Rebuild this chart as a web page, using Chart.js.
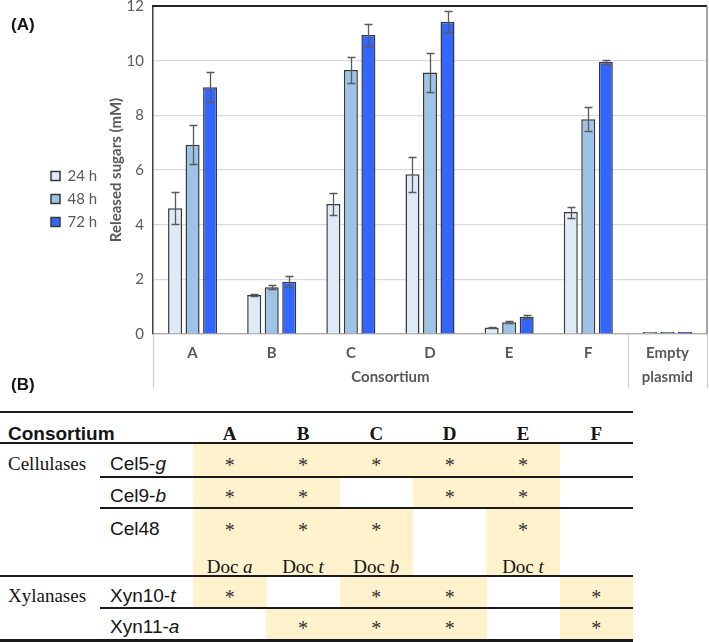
<!DOCTYPE html>
<html><head><meta charset="utf-8">
<script src="https://cdn.jsdelivr.net/npm/chart.js@4.4.1/dist/chart.umd.min.js"></script>
<style>
html,body{margin:0;padding:0;background:#fff;}
#wrap{position:relative;width:709px;height:642px;overflow:hidden;}
#c{position:absolute;left:0;top:0;}
.t{position:absolute;white-space:nowrap;line-height:20px;height:20px;color:#151515;}
.sans{font-family:"Liberation Sans",Arial,sans-serif;font-size:19px;}
.serif{font-family:"Liberation Serif","Times New Roman",serif;font-size:19px;}
.b{font-weight:bold;}
.ln{position:absolute;background:#1a1a1a;}
.sh{position:absolute;background:#FFF2CC;}
</style></head>
<body><div id="wrap"><canvas id="c" width="709" height="392"></canvas><div id="tbl"></div></div>
<script>
// ---- Panel (A) data ----
const categories = ['A','B','C','D','E','F',['Empty','plasmid']];
const seriesLabels = ['24 h','48 h','72 h'];
const sugars24 = [4.60, 1.43, 4.76, 5.84, 0.24, 4.46, 0.07];
const sugars48 = [6.92, 1.71, 9.66, 9.57, 0.43, 7.86, 0.07];
const sugars72 = [9.03, 1.91, 10.94, 11.42, 0.63, 9.95, 0.07];
const err24 = [0.58, 0.03, 0.41, 0.65, 0.02, 0.20, 0];
const err48 = [0.71, 0.07, 0.49, 0.72, 0.03, 0.43, 0];
const err72 = [0.56, 0.20, 0.40, 0.38, 0.05, 0.08, 0];
const yTicks = [0, 2, 4, 6, 8, 10, 12];
const xGroupTitle = 'Consortium';
const yTitle = 'Released sugars (mM)';

// ---- Panel (B) data ----
const tableCols = ['A','B','C','D','E','F'];
const geneRows = ['Cel5-<i>g</i>','Cel9-<i>b</i>','Cel48','Xyn10-<i>t</i>','Xyn11-<i>a</i>'];
const geneClasses = ['Cellulases','','','Xylanases',''];
const geneInConsortium = [
  [1,1,1,1,1,0],
  [1,1,0,1,1,0],
  [1,1,1,0,1,0],
  [1,0,1,1,0,1],
  [0,1,1,1,0,1]
];
const cel48Dockerins = ['Doc <i>a</i>','Doc <i>t</i>','Doc <i>b</i>','','Doc <i>t</i>',''];

const GRAY = '#595959';
const FONT = 'Lato, "Open Sans", sans-serif';
const errs = [err24, err48, err72];

const deco = {
  id: 'deco',
  afterDatasetsDraw(chart) {
    const {ctx, scales: {y}} = chart;
    ctx.save();
    ctx.strokeStyle = '#5a5a5a';
    ctx.lineWidth = 1.3;
    chart.data.datasets.forEach((ds, di) => {
      const meta = chart.getDatasetMeta(di);
      meta.data.forEach((bar, i) => {
        const e = errs[di][i];
        if (!e) return;
        const v = ds.data[i];
        const yt = Math.round(y.getPixelForValue(v + e)) + 0.5;
        const yb = Math.round(y.getPixelForValue(v - e)) + 0.5;
        const x = Math.round(bar.x) + 0.5;
        ctx.beginPath();
        ctx.moveTo(x, yt); ctx.lineTo(x, yb);
        ctx.moveTo(x - 4, yt); ctx.lineTo(x + 4, yt);
        ctx.moveTo(x - 4, yb); ctx.lineTo(x + 4, yb);
        ctx.stroke();
      });
    });
    ctx.restore();
  },
  afterDraw(chart) {
    const {ctx, chartArea: a, scales: {x}} = chart;
    ctx.save();
    // top border
    ctx.strokeStyle = '#262626'; ctx.lineWidth = 2;
    ctx.beginPath(); ctx.moveTo(a.left - 1, a.top); ctx.lineTo(a.right, a.top); ctx.stroke();
    // right border
    ctx.strokeStyle = '#8a8a8a'; ctx.lineWidth = 1.5;
    ctx.beginPath(); ctx.moveTo(a.right, a.top); ctx.lineTo(a.right, a.bottom); ctx.stroke();
    // separators below the axis
    ctx.strokeStyle = '#d0d0d0'; ctx.lineWidth = 1.2;
    const sep = (x.getPixelForValue(5) + x.getPixelForValue(6)) / 2;
    [a.left, sep, a.right].forEach(px => {
      ctx.beginPath(); ctx.moveTo(Math.round(px) + 0.5, a.bottom); ctx.lineTo(Math.round(px) + 0.5, a.bottom + 54); ctx.stroke();
    });
    // group title
    ctx.fillStyle = GRAY;
    ctx.font = 'bold 15px ' + FONT;
    ctx.textAlign = 'center'; ctx.textBaseline = 'middle';
    const cx = (x.getPixelForValue(0) + x.getPixelForValue(5)) / 2;
    ctx.fillText(xGroupTitle, cx, a.bottom + 43);
    ctx.restore();
  }
};

new Chart(document.getElementById('c'), {
  type: 'bar',
  data: {
    labels: categories,
    datasets: [
      {label: seriesLabels[0], data: sugars24, backgroundColor: '#DEEBF7'},
      {label: seriesLabels[1], data: sugars48, backgroundColor: '#9DC3E6'},
      {label: seriesLabels[2], data: sugars72, backgroundColor: '#3366FF'}
    ].map(d => Object.assign(d, {borderColor: '#383838', borderWidth: 1.5, categoryPercentage: 0.664, barPercentage: 0.8}))
  },
  options: {
    responsive: false,
    devicePixelRatio: 1,
    animation: false,
    layout: {padding: {left: 43, top: 6, right: 2, bottom: 0}},
    plugins: {
      tooltip: {enabled: false},
      legend: {
        position: 'left',
        maxHeight: 376,
        labels: {boxWidth: 9, boxHeight: 9, padding: 8, color: GRAY, font: {size: 15, family: FONT}}
      }
    },
    scales: {
      x: {
        grid: {display: false, drawTicks: false},
        border: {display: true, color: '#a8a8a8', width: 1.2},
        ticks: {color: GRAY, padding: 7, font: {size: 15, weight: 'bold', family: FONT, lineHeight: 1.6}, maxRotation: 0, autoSkip: false},
        afterFit(s) { s.height = 58; s.paddingLeft = 0; s.paddingRight = 0; }
      },
      y: {
        min: 0, max: 12,
        afterBuildTicks(s) { s.ticks = yTicks.map(v => ({value: v})); },
        grid: {color: '#d9d9d9', lineWidth: 1.2, drawTicks: false},
        border: {display: true, color: '#404040', width: 1.5},
        ticks: {color: GRAY, padding: 9, font: {size: 15, family: FONT}},
        title: {display: true, text: yTitle, color: GRAY, font: {size: 15, weight: 'bold', family: FONT}, padding: {top: 0, bottom: 0}},
        afterFit(s) {
          const lg = s.chart.legend;
          s.width = 153 - 43 - (lg ? lg.width : 0);
          s.paddingTop = 0; s.paddingBottom = 0;
        }
      }
    }
  },
  plugins: [deco]
});

// ---- Panel (B) table (HTML text) ----
(function () {
  const tbl = document.getElementById('tbl');
  const add = (cls, html, style) => {
    const d = document.createElement('div');
    d.className = cls; d.innerHTML = html;
    Object.assign(d.style, style);
    tbl.appendChild(d);
    return d;
  };
  const colX0 = 193, colW = 73.33;
  const rowTop = [443, 477, 508, 576, 608];
  const rowBot = [477, 508, 576, 608, 641];
  const rowBase = [470, 502, 535, 602, 633];
  const docBase = 573, headBase = 440;
  const top = b => (b - 16.5) + 'px';
  // shading
  geneInConsortium.forEach((row, r) => row.forEach((v, c) => {
    if (v) add('sh', '', {left: (colX0 + c * colW) + 'px', width: (colW + 0.5) + 'px', top: rowTop[r] + 'px', height: (rowBot[r] - rowTop[r]) + 'px'});
  }));
  // lines
  [[412, 0, 633, 2.5], [443, 0, 633, 2], [477, 100, 633, 1.4], [508, 100, 633, 1.4],
   [576, 0, 633, 2], [608, 100, 633, 1.4], [640.5, 0, 633, 2.5]].forEach(([y, x0, x1, w]) => {
    add('ln', '', {left: x0 + 'px', width: (x1 - x0) + 'px', top: (y - w / 2) + 'px', height: w + 'px'});
  });
  // header
  add('t sans b', xGroupTitle, {left: '8px', top: top(headBase)});
  tableCols.forEach((c, i) => {
    add('t serif b', c, {left: (colX0 + i * colW) + 'px', width: colW + 'px', textAlign: 'center', top: top(headBase)});
  });
  // rows
  geneRows.forEach((g, r) => {
    if (geneClasses[r]) add('t serif', geneClasses[r], {left: '8px', top: top(rowBase[r])});
    add('t sans', g, {left: '110px', top: top(rowBase[r])});
    geneInConsortium[r].forEach((v, c) => {
      if (v) add('t serif', '*', {left: (colX0 + c * colW) + 'px', width: colW + 'px', textAlign: 'center', top: top(rowBase[r] + 1), color: '#333', fontSize: '20px'});
    });
  });
  cel48Dockerins.forEach((d, c) => {
    if (d) add('t serif', d, {left: (colX0 + c * colW) + 'px', width: colW + 'px', textAlign: 'center', top: top(docBase)});
  });
  // panel letters
  add('t sans b', '(A)', {left: '11px', top: top(31), fontSize: '17px'});
  add('t sans b', '(B)', {left: '11px', top: top(391), fontSize: '17px'});
})();
</script>
</body></html>
